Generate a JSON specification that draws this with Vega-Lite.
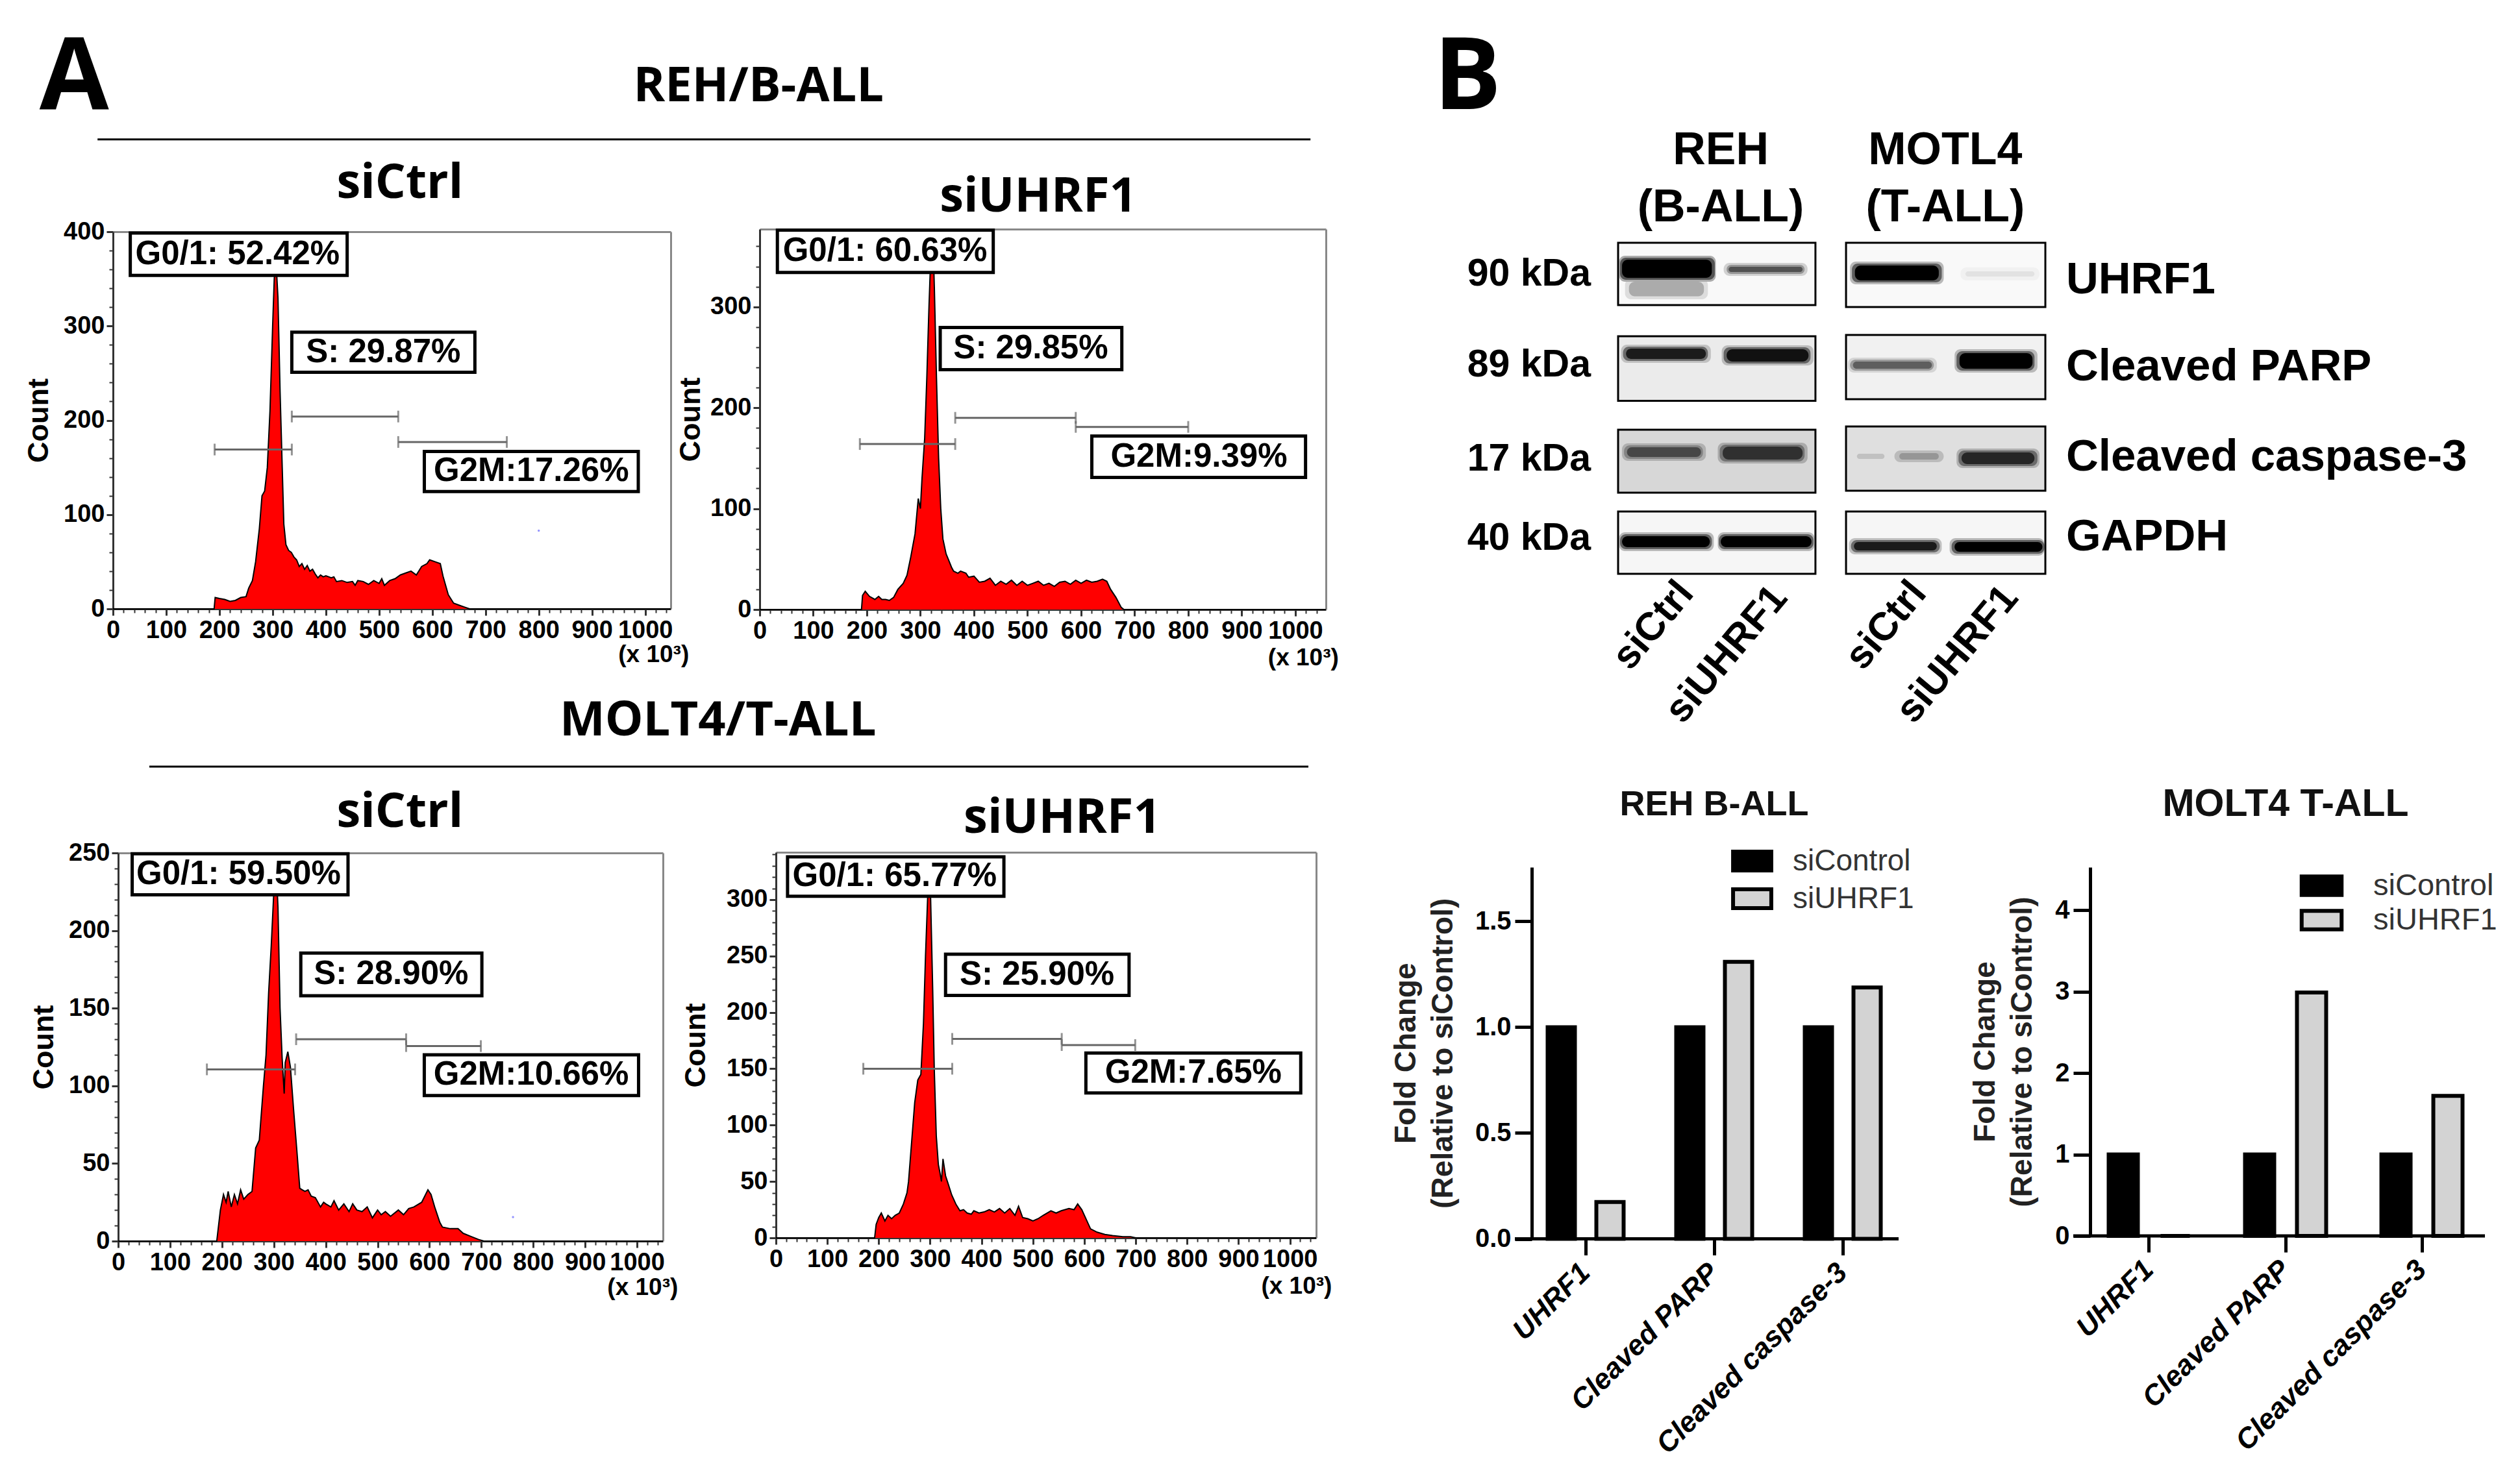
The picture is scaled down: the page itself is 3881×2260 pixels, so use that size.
{
"$schema":"https://vega.github.io/schema/vega-lite/v6.json",
"width":3881,"height":2260,"autosize":{"type":"none"},"padding":0,"background":"#ffffff",
"config":{"view":{"stroke":null},"axis":{"grid":false,"labelFont":"Liberation Sans","labelFontWeight":"bold","titleFont":"Liberation Sans","titleFontWeight":"bold","tickColor":"#333333","domainColor":"#333333","labelColor":"#000000","titleColor":"#000000","labelOverlap":false,"labelFlush":false,"labelBound":false}},
"datasets":{
"a1c":[{"x":0,"y":0},{"x":190,"y":0},{"x":192,"y":12},{"x":200,"y":11},{"x":210,"y":10},{"x":220,"y":8},{"x":230,"y":9},{"x":240,"y":12},{"x":250,"y":13},{"x":255,"y":22},{"x":262,"y":30},{"x":268,"y":50},{"x":275,"y":85},{"x":280,"y":120},{"x":285,"y":125},{"x":290,"y":150},{"x":295,"y":210},{"x":300,"y":300},{"x":303,"y":350},{"x":306,"y":372},{"x":310,"y":330},{"x":314,"y":230},{"x":318,"y":150},{"x":321,"y":90},{"x":325,"y":68},{"x":330,"y":62},{"x":335,"y":60},{"x":340,"y":55},{"x":345,"y":52},{"x":350,"y":45},{"x":355,"y":48},{"x":360,"y":42},{"x":365,"y":46},{"x":370,"y":40},{"x":375,"y":42},{"x":380,"y":37},{"x":385,"y":33},{"x":390,"y":36},{"x":395,"y":34},{"x":400,"y":35},{"x":410,"y":33},{"x":415,"y":34},{"x":420,"y":29},{"x":430,"y":30},{"x":440,"y":28},{"x":450,"y":29},{"x":455,"y":25},{"x":460,"y":30},{"x":470,"y":29},{"x":480,"y":26},{"x":490,"y":30},{"x":500,"y":27},{"x":505,"y":32},{"x":510,"y":25},{"x":520,"y":30},{"x":530,"y":32},{"x":540,"y":36},{"x":550,"y":38},{"x":560,"y":40},{"x":570,"y":36},{"x":580,"y":45},{"x":590,"y":48},{"x":595,"y":52},{"x":605,"y":50},{"x":615,"y":48},{"x":620,"y":35},{"x":625,"y":25},{"x":630,"y":15},{"x":640,"y":6},{"x":650,"y":4},{"x":660,"y":2},{"x":670,"y":0},{"x":1048,"y":0}],
"a2c":[{"x":0,"y":0},{"x":190,"y":0},{"x":192,"y":14},{"x":197,"y":18},{"x":205,"y":13},{"x":215,"y":10},{"x":222,"y":13},{"x":228,"y":10},{"x":235,"y":10},{"x":242,"y":9},{"x":250,"y":12},{"x":258,"y":20},{"x":268,"y":26},{"x":275,"y":34},{"x":282,"y":52},{"x":290,"y":75},{"x":296,"y":110},{"x":300,"y":100},{"x":303,"y":130},{"x":308,"y":170},{"x":312,"y":230},{"x":316,"y":300},{"x":320,"y":360},{"x":323,"y":375},{"x":326,"y":320},{"x":330,"y":230},{"x":334,"y":150},{"x":338,"y":100},{"x":342,"y":70},{"x":348,"y":55},{"x":352,"y":50},{"x":358,"y":42},{"x":362,"y":38},{"x":370,"y":36},{"x":375,"y":38},{"x":385,"y":36},{"x":390,"y":32},{"x":400,"y":33},{"x":410,"y":27},{"x":420,"y":28},{"x":430,"y":31},{"x":440,"y":24},{"x":450,"y":28},{"x":460,"y":25},{"x":470,"y":29},{"x":480,"y":24},{"x":490,"y":28},{"x":500,"y":24},{"x":510,"y":26},{"x":520,"y":28},{"x":530,"y":24},{"x":540,"y":26},{"x":550,"y":23},{"x":560,"y":27},{"x":570,"y":28},{"x":580,"y":25},{"x":590,"y":29},{"x":600,"y":26},{"x":610,"y":29},{"x":620,"y":27},{"x":630,"y":28},{"x":640,"y":30},{"x":648,"y":28},{"x":655,"y":20},{"x":665,"y":12},{"x":675,"y":2},{"x":680,"y":0},{"x":1057,"y":0}],
"a3c":[{"x":0,"y":0},{"x":190,"y":0},{"x":197,"y":20},{"x":203,"y":30},{"x":208,"y":25},{"x":212,"y":32},{"x":218,"y":22},{"x":224,"y":30},{"x":230,"y":24},{"x":236,"y":33},{"x":242,"y":27},{"x":250,"y":30},{"x":258,"y":32},{"x":265,"y":60},{"x":272,"y":65},{"x":280,"y":100},{"x":285,"y":120},{"x":290,"y":160},{"x":295,"y":190},{"x":300,"y":225},{"x":304,"y":245},{"x":308,"y":215},{"x":312,"y":150},{"x":316,"y":118},{"x":320,"y":95},{"x":322,"y":115},{"x":327,"y":122},{"x":332,"y":112},{"x":338,"y":85},{"x":344,"y":60},{"x":350,"y":34},{"x":355,"y":33},{"x":360,"y":32},{"x":366,"y":33},{"x":372,"y":29},{"x":380,"y":28},{"x":390,"y":22},{"x":396,"y":25},{"x":400,"y":24},{"x":410,"y":22},{"x":416,"y":26},{"x":425,"y":20},{"x":435,"y":24},{"x":445,"y":19},{"x":452,"y":24},{"x":460,"y":20},{"x":470,"y":19},{"x":480,"y":22},{"x":490,"y":15},{"x":500,"y":20},{"x":507,"y":17},{"x":515,"y":19},{"x":525,"y":16},{"x":540,"y":20},{"x":550,"y":17},{"x":560,"y":21},{"x":570,"y":22},{"x":585,"y":25},{"x":597,"y":33},{"x":603,"y":30},{"x":610,"y":22},{"x":620,"y":12},{"x":625,"y":9},{"x":640,"y":8},{"x":655,"y":8},{"x":665,"y":5},{"x":680,"y":3},{"x":695,"y":1},{"x":705,"y":0},{"x":1050,"y":0}],
"a4c":[{"x":0,"y":0},{"x":192,"y":0},{"x":195,"y":12},{"x":200,"y":18},{"x":205,"y":22},{"x":212,"y":15},{"x":218,"y":20},{"x":225,"y":17},{"x":232,"y":20},{"x":240,"y":22},{"x":248,"y":30},{"x":255,"y":40},{"x":258,"y":50},{"x":264,"y":85},{"x":270,"y":120},{"x":276,"y":140},{"x":282,"y":145},{"x":287,"y":190},{"x":291,"y":250},{"x":295,"y":300},{"x":298,"y":330},{"x":301,"y":300},{"x":305,"y":220},{"x":308,"y":150},{"x":312,"y":90},{"x":316,"y":65},{"x":319,"y":58},{"x":322,"y":50},{"x":325,"y":70},{"x":330,"y":55},{"x":335,"y":48},{"x":342,"y":38},{"x":350,"y":30},{"x":358,"y":24},{"x":365,"y":25},{"x":372,"y":22},{"x":380,"y":21},{"x":385,"y":24},{"x":395,"y":22},{"x":405,"y":23},{"x":415,"y":25},{"x":425,"y":23},{"x":435,"y":26},{"x":445,"y":22},{"x":455,"y":26},{"x":465,"y":20},{"x":472,"y":28},{"x":480,"y":18},{"x":490,"y":17},{"x":500,"y":15},{"x":510,"y":17},{"x":520,"y":20},{"x":535,"y":24},{"x":545,"y":22},{"x":555,"y":24},{"x":570,"y":26},{"x":580,"y":25},{"x":587,"y":30},{"x":595,"y":25},{"x":605,"y":15},{"x":612,"y":8},{"x":625,"y":5},{"x":640,"y":3},{"x":655,"y":2},{"x":675,"y":1},{"x":690,"y":1},{"x":700,"y":0},{"x":1051,"y":0}],
"a1g":[{"x":191,"x2":336,"y":169},{"x":336,"x2":536,"y":204},{"x":536,"x2":740,"y":177}],
"a2g":[{"x":187,"x2":365,"y":164},{"x":365,"x2":590,"y":190},{"x":590,"x2":800,"y":181}],
"a3g":[{"x":171,"x2":341,"y":110.6},{"x":343,"x2":555,"y":130},{"x":555,"x2":699,"y":125.6}],
"a4g":[{"x":170,"x2":343,"y":150},{"x":343,"x2":556,"y":176.5},{"x":556,"x2":699,"y":171}],
"a1e":[{"x":191,"y":169},{"x":336,"y":169},{"x":336,"y":204},{"x":536,"y":204},{"x":536,"y":177},{"x":740,"y":177}],
"a2e":[{"x":187,"y":164},{"x":365,"y":164},{"x":365,"y":190},{"x":590,"y":190},{"x":590,"y":181},{"x":800,"y":181}],
"a3e":[{"x":171,"y":110.6},{"x":341,"y":110.6},{"x":343,"y":130},{"x":555,"y":130},{"x":555,"y":125.6},{"x":699,"y":125.6}],
"a4e":[{"x":170,"y":150},{"x":343,"y":150},{"x":343,"y":176.5},{"x":556,"y":176.5},{"x":556,"y":171},{"x":699,"y":171}],
"a1b":[{"x":32.5,"x2":440,"y":398.6,"y2":353.7,"xm":234,"ym":376,"label":"G0/1: 52.42%"},{"x":336,"x2":680,"y":293.5,"y2":251,"xm":508,"ym":272,"label":"S: 29.87%"},{"x":585,"x2":987,"y":167,"y2":124.5,"xm":786,"ym":146,"label":"G2M:17.26%"}],
"a2b":[{"x":33,"x2":436,"y":376,"y2":334,"xm":234,"ym":355,"label":"G0/1: 60.63%"},{"x":337,"x2":676,"y":279.6,"y2":237.7,"xm":506,"ym":258.6,"label":"S: 29.85%"},{"x":620,"x2":1019,"y":172,"y2":131,"xm":820,"ym":151,"label":"G2M:9.39%"}],
"a3b":[{"x":27,"x2":443,"y":249.5,"y2":223,"xm":232,"ym":236,"label":"G0/1: 59.50%"},{"x":352,"x2":701,"y":185.5,"y2":158,"xm":526,"ym":172,"label":"S: 28.90%"},{"x":590,"x2":1003,"y":120,"y2":93.7,"xm":796,"ym":107,"label":"G2M:10.66%"}],
"a4b":[{"x":22.6,"x2":443.5,"y":338,"y2":303,"xm":231,"ym":320.5,"label":"G0/1: 65.77%"},{"x":330,"x2":687,"y":251.6,"y2":215,"xm":508,"ym":233.3,"label":"S: 25.90%"},{"x":603,"x2":1021,"y":164,"y2":128.5,"xm":812,"ym":146,"label":"G2M:7.65%"}],
"bars1":[{"target":"UHRF1","group":"siControl","fold":1},{"target":"UHRF1","group":"siUHRF1","fold":0.174},{"target":"Cleaved PARP","group":"siControl","fold":1},{"target":"Cleaved PARP","group":"siUHRF1","fold":1.309},{"target":"Cleaved caspase-3","group":"siControl","fold":1},{"target":"Cleaved caspase-3","group":"siUHRF1","fold":1.188}],
"bars2":[{"target":"UHRF1","group":"siControl","fold":1},{"target":"UHRF1","group":"siUHRF1","fold":0},{"target":"Cleaved PARP","group":"siControl","fold":1},{"target":"Cleaved PARP","group":"siUHRF1","fold":2.99},{"target":"Cleaved caspase-3","group":"siControl","fold":1},{"target":"Cleaved caspase-3","group":"siUHRF1","fold":1.72}],
"boxes":[{"x":0,"x2":2,"y":0,"y2":0.96,"ink":0.02},{"x":0,"x2":2,"y":1.44,"y2":2.435,"ink":0.07},{"x":0,"x2":2,"y":2.88,"y2":3.85,"ink":0.14},{"x":0,"x2":2,"y":4.14,"y2":5.1,"ink":0.03},{"x":2.31,"x2":4.33,"y":0,"y2":0.99,"ink":0.02},{"x":2.31,"x2":4.33,"y":1.42,"y2":2.41,"ink":0.05},{"x":2.31,"x2":4.33,"y":2.83,"y2":3.82,"ink":0.11},{"x":2.31,"x2":4.33,"y":4.14,"y2":5.1,"ink":0.03}],
"bands":[
{"x":0.07,"x2":0.91,"y":0.56,"y2":0.87,"ink":0.12},{"x":0.11,"x2":0.87,"y":0.6,"y2":0.825,"ink":0.3},
{"x":0.01,"x2":0.99,"y":0.2,"y2":0.6,"ink":0.3},{"x":0.02,"x2":0.98,"y":0.23,"y2":0.57,"ink":0.65},{"x":0.04,"x2":0.95,"y":0.26,"y2":0.54,"ink":1},
{"x":1.07,"x2":1.92,"y":0.31,"y2":0.51,"ink":0.16},{"x":1.1,"x2":1.89,"y":0.34,"y2":0.48,"ink":0.38},{"x":1.12,"x2":1.87,"y":0.37,"y2":0.45,"ink":0.65},
{"x":2.35,"x2":3.3,"y":0.29,"y2":0.64,"ink":0.25},{"x":2.37,"x2":3.28,"y":0.32,"y2":0.61,"ink":0.6},{"x":2.4,"x2":3.25,"y":0.35,"y2":0.58,"ink":1},
{"x":3.47,"x2":4.27,"y":0.38,"y2":0.58,"ink":0.05},{"x":3.52,"x2":4.22,"y":0.44,"y2":0.52,"ink":0.1},
{"x":0.03,"x2":0.94,"y":1.57,"y2":1.85,"ink":0.22},{"x":0.05,"x2":0.91,"y":1.6,"y2":1.82,"ink":0.55},{"x":0.08,"x2":0.89,"y":1.63,"y2":1.79,"ink":0.9},
{"x":1.05,"x2":1.98,"y":1.58,"y2":1.89,"ink":0.24},{"x":1.07,"x2":1.95,"y":1.61,"y2":1.86,"ink":0.58},{"x":1.1,"x2":1.93,"y":1.64,"y2":1.83,"ink":0.95},
{"x":2.33,"x2":3.23,"y":1.77,"y2":2,"ink":0.15},{"x":2.35,"x2":3.2,"y":1.8,"y2":1.97,"ink":0.36},{"x":2.38,"x2":3.18,"y":1.83,"y2":1.94,"ink":0.6},
{"x":3.41,"x2":4.25,"y":1.64,"y2":2,"ink":0.25},{"x":3.43,"x2":4.22,"y":1.67,"y2":1.97,"ink":0.6},{"x":3.46,"x2":4.2,"y":1.7,"y2":1.94,"ink":1},
{"x":0.04,"x2":0.89,"y":3.09,"y2":3.36,"ink":0.28},{"x":0.06,"x2":0.86,"y":3.12,"y2":3.33,"ink":0.45},{"x":0.09,"x2":0.84,"y":3.15,"y2":3.3,"ink":0.7},
{"x":1.01,"x2":1.92,"y":3.08,"y2":3.4,"ink":0.3},{"x":1.03,"x2":1.89,"y":3.11,"y2":3.37,"ink":0.52},{"x":1.06,"x2":1.87,"y":3.14,"y2":3.34,"ink":0.8},
{"x":2.42,"x2":2.7,"y":3.25,"y2":3.33,"ink":0.22},{"x":2.8,"x2":3.3,"y":3.2,"y2":3.38,"ink":0.24},{"x":2.85,"x2":3.25,"y":3.24,"y2":3.34,"ink":0.38},
{"x":3.43,"x2":4.27,"y":3.17,"y2":3.47,"ink":0.28},{"x":3.45,"x2":4.25,"y":3.2,"y2":3.44,"ink":0.55},{"x":3.48,"x2":4.22,"y":3.23,"y2":3.41,"ink":0.85},
{"x":0.01,"x2":0.97,"y":4.46,"y2":4.75,"ink":0.25},{"x":0.02,"x2":0.95,"y":4.49,"y2":4.72,"ink":0.6},{"x":0.04,"x2":0.93,"y":4.52,"y2":4.69,"ink":1},
{"x":1.01,"x2":1.99,"y":4.46,"y2":4.75,"ink":0.25},{"x":1.02,"x2":1.98,"y":4.49,"y2":4.72,"ink":0.6},{"x":1.04,"x2":1.96,"y":4.52,"y2":4.69,"ink":1},
{"x":2.34,"x2":3.28,"y":4.55,"y2":4.8,"ink":0.22},{"x":2.36,"x2":3.26,"y":4.58,"y2":4.77,"ink":0.55},{"x":2.39,"x2":3.23,"y":4.61,"y2":4.74,"ink":0.9},
{"x":3.36,"x2":4.32,"y":4.55,"y2":4.82,"ink":0.25},{"x":3.38,"x2":4.32,"y":4.58,"y2":4.79,"ink":0.6},{"x":3.41,"x2":4.3,"y":4.61,"y2":4.76,"ink":1}
]
},
"resolve":{"scale":{"x":"independent","y":"independent","color":"independent","fill":"independent","xOffset":"independent"},"axis":{"x":"independent","y":"independent"},"legend":{"fill":"independent"}},
"layer":[
{"resolve":{"axis":{"x":"independent","y":"independent"}},
 "encoding":{"x":{"field":"x","type":"quantitative","scale":{"domain":[0,1048],"range":[174,1033],"nice":false,"zero":false},"axis":null},"y":{"field":"y","type":"quantitative","scale":{"domain":[0,400],"range":[938,357],"nice":false,"zero":false},"axis":null}},
 "layer":[
 {"data":{"name":"a1c"},"mark":{"type":"area","color":"#ff0000"},"encoding":{"x":{"field":"x","type":"quantitative","scale":{"domain":[0,1048],"range":[174,1033],"nice":false,"zero":false},"axis":{"orient":"bottom","offset":-1322,"values":[0,100,200,300,400,500,600,700,800,900,1000],"format":"d","title":null,"tickSize":10,"tickWidth":3,"domainWidth":3,"labelFontSize":38,"labelPadding":4,"labelAngle":0}},"y":{"field":"y","type":"quantitative","scale":{"domain":[0,400],"range":[938,357],"nice":false,"zero":false},"axis":{"orient":"left","offset":-174,"values":[0,100,200,300,400],"title":"Count","tickSize":10,"tickWidth":3,"domainWidth":3,"labelFontSize":38,"labelPadding":3,"titleFontSize":45,"titlePadding":15}}}},
 {"data":{"name":"a1c"},"mark":{"type":"line","color":"#000000","strokeWidth":2},"encoding":{"x":{"field":"x","type":"quantitative","scale":{"domain":[0,1048],"range":[174,1033],"nice":false,"zero":false},"axis":{"orient":"bottom","offset":-1322,"values":[20,40,60,80,120,140,160,180,220,240,260,280,320,340,360,380,420,440,460,480,520,540,560,580,620,640,660,680,720,740,760,780,820,840,860,880,920,940,960,980,1020,1040],"title":null,"labels":false,"domain":false,"tickSize":6,"tickWidth":2}},"y":{"field":"y","type":"quantitative","scale":{"domain":[0,400],"range":[938,357],"nice":false,"zero":false},"axis":{"orient":"left","offset":-174,"values":[20,40,60,80,120,140,160,180,220,240,260,280,320,340,360,380],"title":null,"labels":false,"domain":false,"tickSize":6,"tickWidth":2}}}},
 {"data":{"name":"a1g"},"mark":{"type":"rule","color":"#666666","strokeWidth":3},"encoding":{"x":{"field":"x","type":"quantitative","scale":{"domain":[0,1048],"range":[174,1033],"nice":false,"zero":false},"axis":{"orient":"top","offset":-357,"title":null,"labels":false,"ticks":false,"domainColor":"#888888","domainWidth":3}},"x2":{"field":"x2"},"y":{"field":"y","type":"quantitative","scale":{"domain":[0,400],"range":[938,357],"nice":false,"zero":false},"axis":{"orient":"right","offset":-2848,"title":null,"labels":false,"ticks":false,"domainColor":"#888888","domainWidth":3}}}},
 {"data":{"name":"a1e"},"mark":{"type":"tick","orient":"vertical","color":"#666666","size":18,"thickness":3}},
 {"data":{"name":"a1b"},"mark":{"type":"rect","fill":"#ffffff","stroke":"#000000","strokeWidth":5},"encoding":{"x2":{"field":"x2"},"y2":{"field":"y2"}}},
 {"data":{"name":"a1b"},"mark":{"type":"text","font":"Liberation Sans","fontWeight":"bold","fontSize":51,"color":"#000000","align":"center","baseline":"middle"},"encoding":{"x":{"field":"xm","type":"quantitative"},"y":{"field":"ym","type":"quantitative"},"text":{"field":"label"}}},
 {"data":{"values":[{"x":800,"y":83}]},"mark":{"type":"point","filled":true,"color":"#6666ff","size":12}},
 {"data":{"values":[{"x":1016,"y":-49,"label":"(x 10³)"}]},"mark":{"type":"text","font":"Liberation Sans","fontWeight":"bold","fontSize":37,"color":"#000000","align":"center","baseline":"middle"},"encoding":{"text":{"field":"label"}}},
 {"data":{"values":[{"x":539,"y":451,"label":"siCtrl"},{"x":1213,"y":553.5,"label":"REH/B-ALL"}]},"mark":{"type":"text","font":"Open Sans","fontWeight":"bold","fontSize":74,"color":"#000000","align":"center","baseline":"middle"},"encoding":{"text":{"field":"label"}}},
 {"data":{"values":[{"x":-73,"y":562.5,"label":"A"}]},"mark":{"type":"text","font":"Open Sans","fontWeight":"bold","fontSize":155,"color":"#000000","align":"center","baseline":"middle"},"encoding":{"text":{"field":"label"}}},
 {"data":{"values":[{"x":-29,"x2":2250,"y":498}]},"mark":{"type":"rule","color":"#000000","strokeWidth":3},"encoding":{"x2":{"field":"x2"}}}
 ]},
{"resolve":{"axis":{"x":"independent","y":"independent"}},
 "encoding":{"x":{"field":"x","type":"quantitative","scale":{"domain":[0,1057],"range":[1170,2042],"nice":false,"zero":false},"axis":null},"y":{"field":"y","type":"quantitative","scale":{"domain":[0,377],"range":[939,353],"nice":false,"zero":false},"axis":null}},
 "layer":[
 {"data":{"name":"a2c"},"mark":{"type":"area","color":"#ff0000"},"encoding":{"x":{"field":"x","type":"quantitative","scale":{"domain":[0,1057],"range":[1170,2042],"nice":false,"zero":false},"axis":{"orient":"bottom","offset":-1321,"values":[0,100,200,300,400,500,600,700,800,900,1000],"format":"d","title":null,"tickSize":10,"tickWidth":3,"domainWidth":3,"labelFontSize":38,"labelPadding":4,"labelAngle":0}},"y":{"field":"y","type":"quantitative","scale":{"domain":[0,377],"range":[939,353],"nice":false,"zero":false},"axis":{"orient":"left","offset":-1170,"values":[0,100,200,300],"title":"Count","tickSize":10,"tickWidth":3,"domainWidth":3,"labelFontSize":38,"labelPadding":3,"titleFontSize":45,"titlePadding":7}}}},
 {"data":{"name":"a2c"},"mark":{"type":"line","color":"#000000","strokeWidth":2},"encoding":{"x":{"field":"x","type":"quantitative","scale":{"domain":[0,1057],"range":[1170,2042],"nice":false,"zero":false},"axis":{"orient":"bottom","offset":-1321,"values":[20,40,60,80,120,140,160,180,220,240,260,280,320,340,360,380,420,440,460,480,520,540,560,580,620,640,660,680,720,740,760,780,820,840,860,880,920,940,960,980,1020,1040],"title":null,"labels":false,"domain":false,"tickSize":6,"tickWidth":2}},"y":{"field":"y","type":"quantitative","scale":{"domain":[0,377],"range":[939,353],"nice":false,"zero":false},"axis":{"orient":"left","offset":-1170,"values":[20,40,60,80,120,140,160,180,220,240,260,280,320,340,360],"title":null,"labels":false,"domain":false,"tickSize":6,"tickWidth":2}}}},
 {"data":{"name":"a2g"},"mark":{"type":"rule","color":"#666666","strokeWidth":3},"encoding":{"x":{"field":"x","type":"quantitative","scale":{"domain":[0,1057],"range":[1170,2042],"nice":false,"zero":false},"axis":{"orient":"top","offset":-353,"title":null,"labels":false,"ticks":false,"domainColor":"#888888","domainWidth":3}},"x2":{"field":"x2"},"y":{"field":"y","type":"quantitative","scale":{"domain":[0,377],"range":[939,353],"nice":false,"zero":false},"axis":{"orient":"right","offset":-1839,"title":null,"labels":false,"ticks":false,"domainColor":"#888888","domainWidth":3}}}},
 {"data":{"name":"a2e"},"mark":{"type":"tick","orient":"vertical","color":"#666666","size":18,"thickness":3}},
 {"data":{"name":"a2b"},"mark":{"type":"rect","fill":"#ffffff","stroke":"#000000","strokeWidth":5},"encoding":{"x2":{"field":"x2"},"y2":{"field":"y2"}}},
 {"data":{"name":"a2b"},"mark":{"type":"text","font":"Liberation Sans","fontWeight":"bold","fontSize":51,"color":"#000000","align":"center","baseline":"middle"},"encoding":{"x":{"field":"xm","type":"quantitative"},"y":{"field":"ym","type":"quantitative"},"text":{"field":"label"}}},
 {"data":{"values":[{"x":1015,"y":-48,"label":"(x 10³)"}]},"mark":{"type":"text","font":"Liberation Sans","fontWeight":"bold","fontSize":37,"color":"#000000","align":"center","baseline":"middle"},"encoding":{"text":{"field":"label"}}},
 {"data":{"values":[{"x":520,"y":408.5,"label":"siUHRF1"}]},"mark":{"type":"text","font":"Open Sans","fontWeight":"bold","fontSize":74,"color":"#000000","align":"center","baseline":"middle"},"encoding":{"text":{"field":"label"}}}
 ]},
{"resolve":{"axis":{"x":"independent","y":"independent"}},
 "encoding":{"x":{"field":"x","type":"quantitative","scale":{"domain":[0,1050],"range":[182,1021],"nice":false,"zero":false},"axis":null},"y":{"field":"y","type":"quantitative","scale":{"domain":[0,250],"range":[1912,1314],"nice":false,"zero":false},"axis":null}},
 "layer":[
 {"data":{"name":"a3c"},"mark":{"type":"area","color":"#ff0000"},"encoding":{"x":{"field":"x","type":"quantitative","scale":{"domain":[0,1050],"range":[182,1021],"nice":false,"zero":false},"axis":{"orient":"bottom","offset":-348,"values":[0,100,200,300,400,500,600,700,800,900,1000],"format":"d","title":null,"tickSize":10,"tickWidth":3,"domainWidth":3,"labelFontSize":38,"labelPadding":4,"labelAngle":0}},"y":{"field":"y","type":"quantitative","scale":{"domain":[0,250],"range":[1912,1314],"nice":false,"zero":false},"axis":{"orient":"left","offset":-182,"values":[0,50,100,150,200,250],"title":"Count","tickSize":10,"tickWidth":3,"domainWidth":3,"labelFontSize":38,"labelPadding":3,"titleFontSize":45,"titlePadding":15}}}},
 {"data":{"name":"a3c"},"mark":{"type":"line","color":"#000000","strokeWidth":2},"encoding":{"x":{"field":"x","type":"quantitative","scale":{"domain":[0,1050],"range":[182,1021],"nice":false,"zero":false},"axis":{"orient":"bottom","offset":-348,"values":[20,40,60,80,120,140,160,180,220,240,260,280,320,340,360,380,420,440,460,480,520,540,560,580,620,640,660,680,720,740,760,780,820,840,860,880,920,940,960,980,1020,1040],"title":null,"labels":false,"domain":false,"tickSize":6,"tickWidth":2}},"y":{"field":"y","type":"quantitative","scale":{"domain":[0,250],"range":[1912,1314],"nice":false,"zero":false},"axis":{"orient":"left","offset":-182,"values":[10,20,30,40,60,70,80,90,110,120,130,140,160,170,180,190,210,220,230,240],"title":null,"labels":false,"domain":false,"tickSize":6,"tickWidth":2}}}},
 {"data":{"name":"a3g"},"mark":{"type":"rule","color":"#666666","strokeWidth":3},"encoding":{"x":{"field":"x","type":"quantitative","scale":{"domain":[0,1050],"range":[182,1021],"nice":false,"zero":false},"axis":{"orient":"top","offset":-1314,"title":null,"labels":false,"ticks":false,"domainColor":"#888888","domainWidth":3}},"x2":{"field":"x2"},"y":{"field":"y","type":"quantitative","scale":{"domain":[0,250],"range":[1912,1314],"nice":false,"zero":false},"axis":{"orient":"right","offset":-2860,"title":null,"labels":false,"ticks":false,"domainColor":"#888888","domainWidth":3}}}},
 {"data":{"name":"a3e"},"mark":{"type":"tick","orient":"vertical","color":"#666666","size":18,"thickness":3}},
 {"data":{"name":"a3b"},"mark":{"type":"rect","fill":"#ffffff","stroke":"#000000","strokeWidth":5},"encoding":{"x2":{"field":"x2"},"y2":{"field":"y2"}}},
 {"data":{"name":"a3b"},"mark":{"type":"text","font":"Liberation Sans","fontWeight":"bold","fontSize":51,"color":"#000000","align":"center","baseline":"middle"},"encoding":{"x":{"field":"xm","type":"quantitative"},"y":{"field":"ym","type":"quantitative"},"text":{"field":"label"}}},
 {"data":{"values":[{"x":761,"y":15.5}]},"mark":{"type":"point","filled":true,"color":"#6666ff","size":12}},
 {"data":{"values":[{"x":1011,"y":-30,"label":"(x 10³)"}]},"mark":{"type":"text","font":"Liberation Sans","fontWeight":"bold","fontSize":37,"color":"#000000","align":"center","baseline":"middle"},"encoding":{"text":{"field":"label"}}},
 {"data":{"values":[{"x":543,"y":276,"label":"siCtrl"},{"x":1156,"y":335,"label":"MOLT4/T-ALL"}]},"mark":{"type":"text","font":"Open Sans","fontWeight":"bold","fontSize":74,"color":"#000000","align":"center","baseline":"middle"},"encoding":{"text":{"field":"label"}}},
 {"data":{"values":[{"x":60,"x2":2294,"y":305.6}]},"mark":{"type":"rule","color":"#000000","strokeWidth":3},"encoding":{"x2":{"field":"x2"}}}
 ]},
{"resolve":{"axis":{"x":"independent","y":"independent"}},
 "encoding":{"x":{"field":"x","type":"quantitative","scale":{"domain":[0,1051],"range":[1195,2027],"nice":false,"zero":false},"axis":null},"y":{"field":"y","type":"quantitative","scale":{"domain":[0,342],"range":[1907,1313],"nice":false,"zero":false},"axis":null}},
 "layer":[
 {"data":{"name":"a4c"},"mark":{"type":"area","color":"#ff0000"},"encoding":{"x":{"field":"x","type":"quantitative","scale":{"domain":[0,1051],"range":[1195,2027],"nice":false,"zero":false},"axis":{"orient":"bottom","offset":-353,"values":[0,100,200,300,400,500,600,700,800,900,1000],"format":"d","title":null,"tickSize":10,"tickWidth":3,"domainWidth":3,"labelFontSize":38,"labelPadding":4,"labelAngle":0}},"y":{"field":"y","type":"quantitative","scale":{"domain":[0,342],"range":[1907,1313],"nice":false,"zero":false},"axis":{"orient":"left","offset":-1195,"values":[0,50,100,150,200,250,300],"title":"Count","tickSize":10,"tickWidth":3,"domainWidth":3,"labelFontSize":38,"labelPadding":3,"titleFontSize":45,"titlePadding":24}}}},
 {"data":{"name":"a4c"},"mark":{"type":"line","color":"#000000","strokeWidth":2},"encoding":{"x":{"field":"x","type":"quantitative","scale":{"domain":[0,1051],"range":[1195,2027],"nice":false,"zero":false},"axis":{"orient":"bottom","offset":-353,"values":[20,40,60,80,120,140,160,180,220,240,260,280,320,340,360,380,420,440,460,480,520,540,560,580,620,640,660,680,720,740,760,780,820,840,860,880,920,940,960,980,1020,1040],"title":null,"labels":false,"domain":false,"tickSize":6,"tickWidth":2}},"y":{"field":"y","type":"quantitative","scale":{"domain":[0,342],"range":[1907,1313],"nice":false,"zero":false},"axis":{"orient":"left","offset":-1195,"values":[10,20,30,40,60,70,80,90,110,120,130,140,160,170,180,190,210,220,230,240,260,270,280,290,310,320,330,340],"title":null,"labels":false,"domain":false,"tickSize":6,"tickWidth":2}}}},
 {"data":{"name":"a4g"},"mark":{"type":"rule","color":"#666666","strokeWidth":3},"encoding":{"x":{"field":"x","type":"quantitative","scale":{"domain":[0,1051],"range":[1195,2027],"nice":false,"zero":false},"axis":{"orient":"top","offset":-1313,"title":null,"labels":false,"ticks":false,"domainColor":"#888888","domainWidth":3}},"x2":{"field":"x2"},"y":{"field":"y","type":"quantitative","scale":{"domain":[0,342],"range":[1907,1313],"nice":false,"zero":false},"axis":{"orient":"right","offset":-1854,"title":null,"labels":false,"ticks":false,"domainColor":"#888888","domainWidth":3}}}},
 {"data":{"name":"a4e"},"mark":{"type":"tick","orient":"vertical","color":"#666666","size":18,"thickness":3}},
 {"data":{"name":"a4b"},"mark":{"type":"rect","fill":"#ffffff","stroke":"#000000","strokeWidth":5},"encoding":{"x2":{"field":"x2"},"y2":{"field":"y2"}}},
 {"data":{"name":"a4b"},"mark":{"type":"text","font":"Liberation Sans","fontWeight":"bold","fontSize":51,"color":"#000000","align":"center","baseline":"middle"},"encoding":{"x":{"field":"xm","type":"quantitative"},"y":{"field":"ym","type":"quantitative"},"text":{"field":"label"}}},
 {"data":{"values":[{"x":1013,"y":-43,"label":"(x 10³)"}]},"mark":{"type":"text","font":"Liberation Sans","fontWeight":"bold","fontSize":37,"color":"#000000","align":"center","baseline":"middle"},"encoding":{"text":{"field":"label"}}},
 {"data":{"values":[{"x":557,"y":372,"label":"siUHRF1"}]},"mark":{"type":"text","font":"Open Sans","fontWeight":"bold","fontSize":74,"color":"#000000","align":"center","baseline":"middle"},"encoding":{"text":{"field":"label"}}}
 ]},
{"encoding":{"x":{"field":"x","type":"quantitative","scale":{"domain":[0,4.33],"range":[2492,3150],"nice":false,"zero":false},"axis":null},"y":{"field":"y","type":"quantitative","scale":{"domain":[0,5.1],"range":[374,884],"nice":false,"zero":false},"axis":null}},
 "layer":[
 {"data":{"name":"boxes"},"mark":{"type":"rect"},"encoding":{"x2":{"field":"x2"},"y2":{"field":"y2"},"color":{"field":"ink","type":"quantitative","scale":{"domain":[0,1],"range":["#ffffff","#000000"]},"legend":null}}},
 {"data":{"name":"bands"},"mark":{"type":"rect","cornerRadius":9},"encoding":{"x2":{"field":"x2"},"y2":{"field":"y2"},"color":{"field":"ink","type":"quantitative","scale":{"domain":[0,1],"range":["#ffffff","#000000"]},"legend":null}}},
 {"data":{"name":"boxes"},"mark":{"type":"rect","fillOpacity":0,"stroke":"#000000","strokeWidth":3},"encoding":{"x2":{"field":"x2"},"y2":{"field":"y2"}}},
 {"data":{"values":[{"x":-0.276,"y":0.48,"label":"90 kDa"},{"x":-0.276,"y":1.875,"label":"89 kDa"},{"x":-0.276,"y":3.33,"label":"17 kDa"},{"x":-0.276,"y":4.55,"label":"40 kDa"}]},"mark":{"type":"text","font":"Liberation Sans","fontWeight":"bold","fontSize":59,"color":"#000000","align":"right","baseline":"middle"},"encoding":{"text":{"field":"label"}}},
 {"data":{"values":[{"x":4.54,"y":0.57,"label":"UHRF1"},{"x":4.54,"y":1.91,"label":"Cleaved PARP"},{"x":4.54,"y":3.3,"label":"Cleaved caspase-3"},{"x":4.54,"y":4.53,"label":"GAPDH"}]},"mark":{"type":"text","font":"Liberation Sans","fontWeight":"bold","fontSize":69,"color":"#000000","align":"left","baseline":"middle"},"encoding":{"text":{"field":"label"}}},
 {"data":{"values":[{"x":1.04,"y":-1.42,"label":"REH"},{"x":1.04,"y":-0.54,"label":"(B-ALL)"},{"x":3.316,"y":-1.42,"label":"MOTL4"},{"x":3.316,"y":-0.54,"label":"(T-ALL)"}]},"mark":{"type":"text","font":"Liberation Sans","fontWeight":"bold","fontSize":70,"color":"#000000","align":"center","baseline":"middle"},"encoding":{"text":{"field":"label"}}},
 {"data":{"values":[{"x":0.69,"y":5.3,"label":"siCtrl"},{"x":1.64,"y":5.37,"label":"siUHRF1"},{"x":3.05,"y":5.3,"label":"siCtrl"},{"x":3.98,"y":5.37,"label":"siUHRF1"}]},"mark":{"type":"text","font":"Liberation Sans","fontWeight":"bold","fontSize":61,"angle":-50,"color":"#000000","align":"right","baseline":"middle"},"encoding":{"text":{"field":"label"}}},
 {"data":{"values":[{"x":-1.526,"y":-2.53,"label":"B"}]},"mark":{"type":"text","font":"Open Sans","fontWeight":"bold","fontSize":155,"color":"#000000","align":"center","baseline":"middle"},"encoding":{"text":{"field":"label"}}}
 ]},
{"resolve":{"axis":{"x":"independent","y":"independent"}},"layer":[
 {"data":{"name":"bars1"},"mark":{"type":"bar","stroke":"#000000","strokeWidth":6},"encoding":{"x":{"field":"target","type":"nominal","scale":{"domain":["UHRF1","Cleaved PARP","Cleaved caspase-3"],"range":[2343,2937],"paddingInner":0.409,"paddingOuter":0.2045},"axis":{"orient":"bottom","offset":-351.5,"title":null,"domain":false,"tickSize":25,"tickWidth":5,"tickColor":"#000000","labelFontSize":44,"labelFontStyle":"italic","labelAngle":-45,"labelAlign":"right","labelBaseline":"middle","labelPadding":20,"labelLimit":600}},"xOffset":{"field":"group","type":"nominal","scale":{"domain":["siControl","siUHRF1"],"paddingInner":0.44,"paddingOuter":0}},"y":{"field":"fold","type":"quantitative","scale":{"domain":[0,1.756],"range":[1908.5,1336],"nice":false,"zero":false},"axis":{"orient":"left","offset":-2359,"values":[0,0.5,1,1.5],"format":".1f","title":["Fold Change","(Relative to siControl)"],"tickSize":26,"tickWidth":5,"domainWidth":5,"domainColor":"#000000","tickColor":"#000000","labelFontSize":40,"labelPadding":6,"titleFontSize":46,"titleColor":"#222222","titlePadding":25,"titleLineHeight":57}},"fill":{"field":"group","type":"nominal","scale":{"domain":["siControl","siUHRF1"],"range":["#000000","#d3d3d3"]},"legend":{"orient":"none","legendX":2668,"legendY":1296,"title":null,"symbolType":"M-1.07,-.53H1.07V.53H-1.07Z","symbolSize":3025,"symbolStrokeColor":"#000000","symbolStrokeWidth":6,"symbolOpacity":1,"labelFont":"Liberation Sans","labelFontSize":46,"labelColor":"#333333","labelOffset":32,"labelLimit":400,"rowPadding":0}}}},
 {"data":{"values":[{"target":"Cleaved PARP","fold":2.05,"label":"REH B-ALL"}]},"mark":{"type":"text","font":"Liberation Sans","fontWeight":"bold","fontSize":54,"color":"#111111","align":"center","baseline":"middle"},"encoding":{"x":{"field":"target","type":"nominal","scale":{"domain":["UHRF1","Cleaved PARP","Cleaved caspase-3"],"range":[2343,2937],"paddingInner":0.409,"paddingOuter":0.2045},"axis":null},"y":{"field":"fold","type":"quantitative","scale":{"domain":[0,1.756],"range":[1908.5,1336],"nice":false,"zero":false},"axis":null},"text":{"field":"label"}}}
 ]},
{"data":{"values":[{"a":0,"b":1,"v":0}]},"mark":{"type":"rule","color":"#000000","strokeWidth":5},"encoding":{"x":{"field":"a","type":"quantitative","scale":{"domain":[0,1],"range":[2333,2924]},"axis":null},"x2":{"field":"b"},"y":{"field":"v","type":"quantitative","scale":{"domain":[0,1.756],"range":[1908.5,1336],"nice":false,"zero":false},"axis":null}}},
{"resolve":{"axis":{"x":"independent","y":"independent"}},"layer":[
 {"data":{"name":"bars2"},"mark":{"type":"bar","stroke":"#000000","strokeWidth":6},"encoding":{"x":{"field":"target","type":"nominal","scale":{"domain":["UHRF1","Cleaved PARP","Cleaved caspase-3"],"range":[3205,3835],"paddingInner":0.405,"paddingOuter":0.2024},"axis":{"orient":"bottom","offset":-356,"title":null,"domain":false,"tickSize":25,"tickWidth":5,"tickColor":"#000000","labelFontSize":44,"labelFontStyle":"italic","labelAngle":-45,"labelAlign":"right","labelBaseline":"middle","labelPadding":20,"labelLimit":600}},"xOffset":{"field":"group","type":"nominal","scale":{"domain":["siControl","siUHRF1"],"paddingInner":0.4375,"paddingOuter":0}},"y":{"field":"fold","type":"quantitative","scale":{"domain":[0,4.53],"range":[1904,1336],"nice":false,"zero":false},"axis":{"orient":"left","offset":-3219,"values":[0,1,2,3,4],"format":"d","title":["Fold Change","(Relative to siControl)"],"tickSize":26,"tickWidth":5,"domainWidth":5,"domainColor":"#000000","tickColor":"#000000","labelFontSize":40,"labelPadding":6,"titleFontSize":46,"titleColor":"#222222","titlePadding":26,"titleLineHeight":57}},"fill":{"field":"group","type":"nominal","scale":{"domain":["siControl","siUHRF1"],"range":["#000000","#d3d3d3"]},"legend":{"orient":"none","legendX":3552,"legendY":1341,"title":null,"symbolType":"M-1.5,-.7H1.5V.7H-1.5Z","symbolSize":1681,"symbolStrokeColor":"#000000","symbolStrokeWidth":6,"symbolOpacity":1,"labelFont":"Liberation Sans","labelFontSize":47,"labelColor":"#333333","labelOffset":56,"labelLimit":400,"rowPadding":0}}}},
 {"data":{"values":[{"target":"Cleaved PARP","fold":5.3,"label":"MOLT4 T-ALL"}]},"mark":{"type":"text","font":"Liberation Sans","fontWeight":"bold","fontSize":59,"color":"#111111","align":"center","baseline":"middle"},"encoding":{"x":{"field":"target","type":"nominal","scale":{"domain":["UHRF1","Cleaved PARP","Cleaved caspase-3"],"range":[3205,3835],"paddingInner":0.405,"paddingOuter":0.2024},"axis":null},"y":{"field":"fold","type":"quantitative","scale":{"domain":[0,4.53],"range":[1904,1336],"nice":false,"zero":false},"axis":null},"text":{"field":"label"}}}
 ]},
{"data":{"values":[{"a":0,"b":1,"v":0}]},"mark":{"type":"rule","color":"#000000","strokeWidth":5},"encoding":{"x":{"field":"a","type":"quantitative","scale":{"domain":[0,1],"range":[3193,3827]},"axis":null},"x2":{"field":"b"},"y":{"field":"v","type":"quantitative","scale":{"domain":[0,4.53],"range":[1904,1336],"nice":false,"zero":false},"axis":null}}}
]
}
